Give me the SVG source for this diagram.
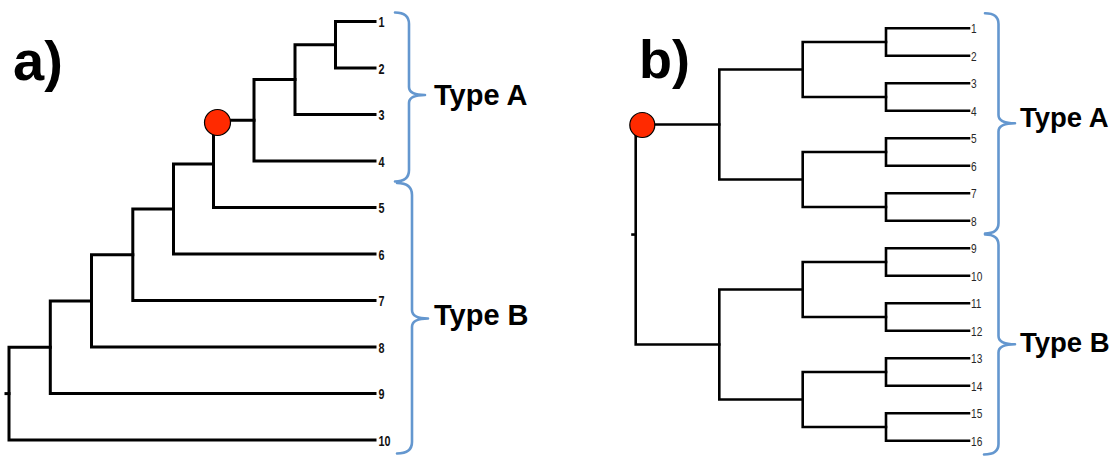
<svg xmlns="http://www.w3.org/2000/svg" width="1120" height="456" viewBox="0 0 1120 456">
  <style>
    .bg { fill: #ffffff; }
    .edge-a { fill: none; stroke: #000; stroke-width: 3; stroke-linecap: square; stroke-linejoin: miter; }
    .edge-b { fill: none; stroke: #000; stroke-width: 2.6; stroke-linecap: square; stroke-linejoin: miter; }
    .root { fill: #ff2a00; stroke: #000; stroke-width: 1.2; }
    .brace { fill: none; stroke: #6497cf; stroke-width: 2.6; stroke-linecap: round; stroke-linejoin: round; }
    .panel { font-family: "Liberation Sans", Arial, sans-serif; font-weight: bold; fill: #000; }
    .type { font-family: "Liberation Sans", Arial, sans-serif; font-weight: bold; fill: #000; }
    .leaf-a { font-family: "Liberation Sans", Arial, sans-serif; font-weight: bold; font-size: 15px; fill: #111; }
    .leaf-b { font-family: "Liberation Sans", Arial, sans-serif; font-size: 13.5px; fill: #262626; }
  </style>

  <rect class="bg" x="0" y="0" width="1120" height="456"/>

  <!-- panel letters -->
  <text id="label-a" class="panel" x="13" y="80" font-size="56">a)</text>
  <text id="label-b" class="panel" x="639" y="78" font-size="54">b)</text>

  <!-- tree edges (elbow connectors) -->
  <g id="connectors">
    <g id="edges-a" class="edge-a">
      <path d="M375 21.5 H335.5 V68 H375"/>
      <path d="M335.5 44.75 H295 V114.5 H375"/>
      <path d="M295 79.6 H254 V161 H375"/>
      <path d="M254 120.3 H213.5 V207.5 H375"/>
      <path d="M213.5 163.9 H173.5 V254 H375"/>
      <path d="M173.5 209 H132.8 V300.5 H375"/>
      <path d="M132.8 254.7 H91.5 V347 H375"/>
      <path d="M91.5 300.9 H50.3 V393.5 H375"/>
      <path d="M50.3 347.2 H9 V440 H375"/>
      <path d="M6 393.6 H9"/>
    </g>
    <g id="edges-b" class="edge-b">
      <!-- cherries -->
      <path d="M969 28.3 H886 V55.8 H969"/>
      <path d="M969 83.3 H886 V110.8 H969"/>
      <path d="M969 138.3 H886 V165.8 H969"/>
      <path d="M969 193.3 H886 V220.8 H969"/>
      <path d="M969 248.3 H886 V275.8 H969"/>
      <path d="M969 303.3 H886 V330.8 H969"/>
      <path d="M969 358.3 H886 V385.8 H969"/>
      <path d="M969 413.3 H886 V440.8 H969"/>
      <!-- groups of four -->
      <path d="M886 42.05 H802.7 V97.05 H886"/>
      <path d="M886 152.05 H802.7 V207.05 H886"/>
      <path d="M886 262.05 H802.7 V317.05 H886"/>
      <path d="M886 372.05 H802.7 V427.05 H886"/>
      <!-- groups of eight -->
      <path d="M802.7 69.55 H719.3 V179.55 H802.7"/>
      <path d="M802.7 289.55 H719.3 V399.55 H802.7"/>
      <!-- root -->
      <path d="M719.3 124.55 H635.7 V344.55 H719.3"/>
      <path d="M632.5 234.55 H635.7"/>
    </g>
  </g>

  <!-- highlighted ancestral nodes -->
  <g id="node-a-root">
    <circle class="root" cx="217.5" cy="122.5" r="13"/>
  </g>
  <g id="node-b-root">
    <circle class="root" cx="642.3" cy="125" r="12.5"/>
  </g>

  <!-- leaf labels, tree a -->
  <g id="leaves-a" class="leaf-a">
    <g id="a-leaf-1"><text transform="translate(378.5 27) scale(0.72 1)">1</text></g>
    <g id="a-leaf-2"><text transform="translate(378.5 73.5) scale(0.72 1)">2</text></g>
    <g id="a-leaf-3"><text transform="translate(378.5 120) scale(0.72 1)">3</text></g>
    <g id="a-leaf-4"><text transform="translate(378.5 166.5) scale(0.72 1)">4</text></g>
    <g id="a-leaf-5"><text transform="translate(378.5 213) scale(0.72 1)">5</text></g>
    <g id="a-leaf-6"><text transform="translate(378.5 259.5) scale(0.72 1)">6</text></g>
    <g id="a-leaf-7"><text transform="translate(378.5 306) scale(0.72 1)">7</text></g>
    <g id="a-leaf-8"><text transform="translate(378.5 352.5) scale(0.72 1)">8</text></g>
    <g id="a-leaf-9"><text transform="translate(378.5 399) scale(0.72 1)">9</text></g>
    <g id="a-leaf-10"><text transform="translate(378.5 445.5) scale(0.72 1)">10</text></g>
  </g>

  <!-- leaf labels, tree b -->
  <g id="leaves-b" class="leaf-b">
    <g id="b-leaf-1"><text transform="translate(971 33) scale(0.75 1)">1</text></g>
    <g id="b-leaf-2"><text transform="translate(971 60.5) scale(0.75 1)">2</text></g>
    <g id="b-leaf-3"><text transform="translate(971 88) scale(0.75 1)">3</text></g>
    <g id="b-leaf-4"><text transform="translate(971 115.5) scale(0.75 1)">4</text></g>
    <g id="b-leaf-5"><text transform="translate(971 143) scale(0.75 1)">5</text></g>
    <g id="b-leaf-6"><text transform="translate(971 170.5) scale(0.75 1)">6</text></g>
    <g id="b-leaf-7"><text transform="translate(971 198) scale(0.75 1)">7</text></g>
    <g id="b-leaf-8"><text transform="translate(971 225.5) scale(0.75 1)">8</text></g>
    <g id="b-leaf-9"><text transform="translate(971 253) scale(0.75 1)">9</text></g>
    <g id="b-leaf-10"><text transform="translate(971 280.5) scale(0.75 1)">10</text></g>
    <g id="b-leaf-11"><text transform="translate(971 308) scale(0.75 1)">11</text></g>
    <g id="b-leaf-12"><text transform="translate(971 335.5) scale(0.75 1)">12</text></g>
    <g id="b-leaf-13"><text transform="translate(971 363) scale(0.75 1)">13</text></g>
    <g id="b-leaf-14"><text transform="translate(971 390.5) scale(0.75 1)">14</text></g>
    <g id="b-leaf-15"><text transform="translate(971 418) scale(0.75 1)">15</text></g>
    <g id="b-leaf-16"><text transform="translate(971 445.5) scale(0.75 1)">16</text></g>
  </g>

  <!-- group braces and their labels -->
  <g id="group-a-typeA">
    <path class="brace" d="M395 12.5 Q409 12.5 409 24 V87 Q409 95 425 95 Q409 95 409 103 V170 Q409 181.5 395 181.5"/>
    <text class="type" x="434" y="105" font-size="29">Type A</text>
  </g>
  <g id="group-a-typeB">
    <path class="brace" d="M397 183 Q412 183 412 195 V310 Q412 318.5 428 318.5 Q412 318.5 412 327 V442 Q412 453.5 397 453.5"/>
    <text class="type" x="434" y="325" font-size="29">Type B</text>
  </g>
  <g id="group-b-typeA">
    <path class="brace" d="M985 13.3 Q998.5 13.3 998.5 24 V115 Q998.5 123.3 1015 123.3 Q998.5 123.3 998.5 131.5 V223 Q998.5 233.5 985 233.5"/>
    <text class="type" x="1020" y="127" font-size="27.5">Type A</text>
  </g>
  <g id="group-b-typeB">
    <path class="brace" d="M985 234.5 Q998.5 234.5 998.5 245 V336 Q998.5 344.3 1015 344.3 Q998.5 344.3 998.5 352.5 V444 Q998.5 454.5 984 454.5"/>
    <text class="type" x="1020" y="352" font-size="27.5">Type B</text>
  </g>
</svg>
